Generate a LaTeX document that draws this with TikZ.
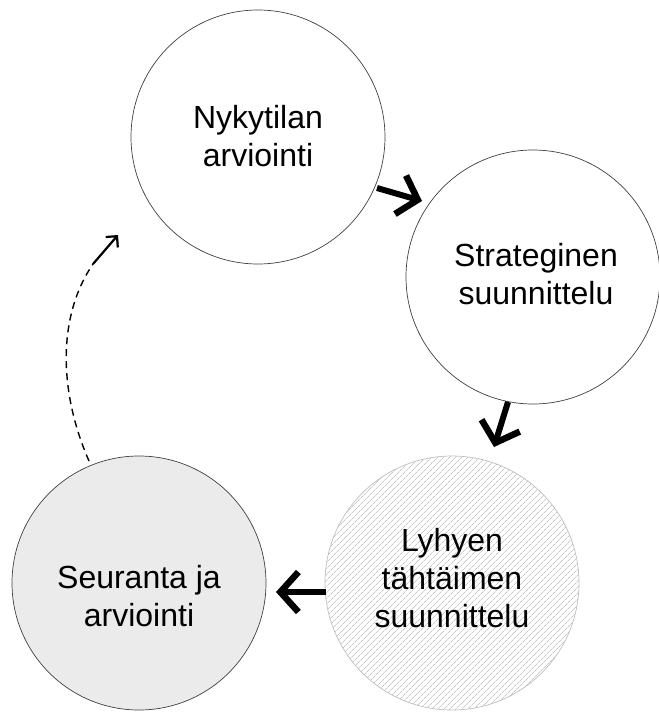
\documentclass[tikz,border=0pt]{standalone}
\usepackage{fontspec}
\setmainfont{Liberation Sans}
\usetikzlibrary{patterns.meta,arrows.meta}
\begin{document}
\begin{tikzpicture}[x=1pt,y=-1pt,
  phase/.style={circle,minimum size=254pt,inner sep=0pt,line width=0.7pt,draw=black!75},
  lbl/.style={align=center,font=\fontsize{32}{38}\selectfont},
  bigarrow/.style={line width=6pt,-{Straight Barb[length=18pt,width=40pt,line width=6.5pt]}},
  dashline/.style={line width=1.4pt,dash pattern=on 7pt off 5pt},
  dashhead/.style={line width=2.2pt,-{Straight Barb[length=8pt,width=16pt,line width=2.2pt]}}
]
\useasboundingbox (0,0) rectangle (659,713);
\node[phase,fill=white] (A) at (258,137) {};
\node[phase,fill=white] (B) at (533,277) {};
\node[phase,draw=black!25,pattern={Lines[angle=45,distance=4pt,line width=0.7pt]},pattern color=black!22] (C) at (452,583) {};
\node[phase,fill=black!8] (D) at (139,583) {};
\node[lbl] (tA) at (258,136) {Nykytilan\\arviointi};
\node[lbl] (tB) at (536,274) {Strateginen\\suunnittelu};
\node[lbl] (tC) at (452,578) {Lyhyen\\tähtäimen\\suunnittelu};
\node[lbl] (tD) at (139,596) {Seuranta ja\\arviointi};
\coordinate (a1) at (377,188);
\coordinate (a2) at (422,201);
\coordinate (b1) at (508,402);
\coordinate (b2) at (494,447);
\coordinate (c1) at (326,592);
\coordinate (c2) at (276,592);
\coordinate (d1) at (89,461);
\coordinate (d3) at (93,264);
\coordinate (d2) at (118,235);
\draw[bigarrow] (a1) -- (a2);
\draw[bigarrow] (b1) -- (b2);
\draw[bigarrow] (c1) -- (c2);
\draw[dashline] (d1) .. controls (58,390) and (58,315) .. (d3);
\draw[dashhead] (d3) -- (d2);
\end{tikzpicture}
\end{document}
